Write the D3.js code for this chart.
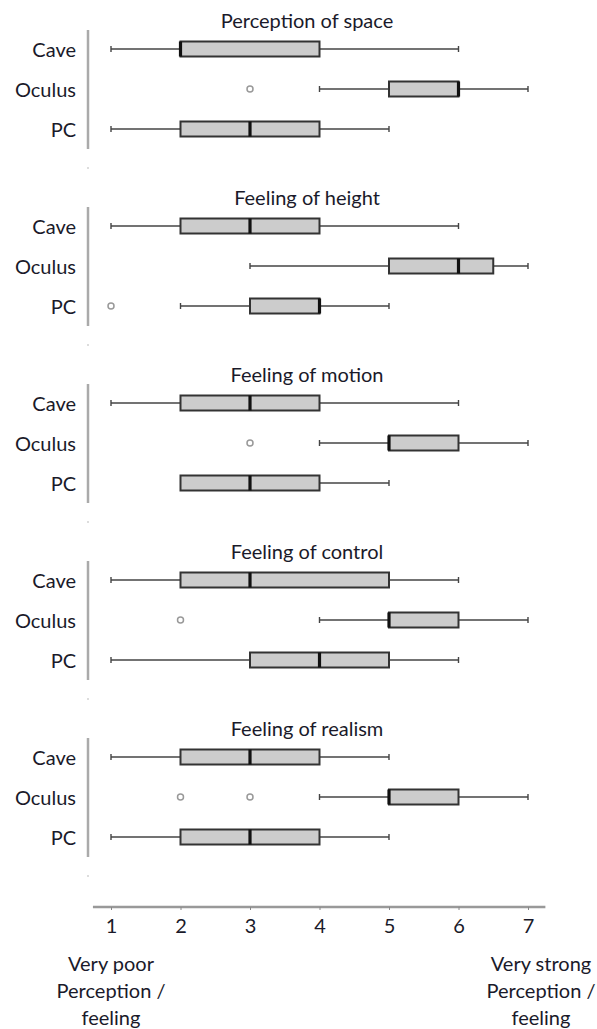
<!DOCTYPE html>
<html><head><meta charset="utf-8">
<script src="https://cdn.jsdelivr.net/npm/d3@7"></script>
<style>
html,body{margin:0;padding:0;background:#fff;}
svg{display:block;}
text{font-family:Lato,"Open Sans",sans-serif;fill:#1a1a2a;}
</style></head>
<body>
<script>
const panels = ["Perception of space", "Feeling of height", "Feeling of motion", "Feeling of control", "Feeling of realism"];
const groups = ["Cave", "Oculus", "PC"];
// per panel: [Cave, Oculus, PC]
const mins    = [[1, 4, 1], [1, 3, 2], [1, 4, 2], [1, 4, 1], [1, 4, 1]];
const q1s     = [[2, 5, 2], [2, 5, 3], [2, 5, 2], [2, 5, 3], [2, 5, 2]];
const medians = [[2, 6, 3], [3, 6, 4], [3, 5, 3], [3, 5, 4], [3, 5, 3]];
const q3s     = [[4, 6, 4], [4, 6.5, 4], [4, 6, 4], [5, 6, 5], [4, 6, 4]];
const maxs    = [[6, 7, 5], [6, 7, 5], [6, 7, 5], [6, 7, 6], [5, 7, 5]];
const outliers = [[[], [3], []], [[], [], [1]], [[], [3], []], [[], [2], []], [[], [2, 3], []]];
const tickValues = [1, 2, 3, 4, 5, 6, 7];
const leftLabel = ["Very poor", "Perception /", "feeling"];
const rightLabel = ["Very strong", "Perception /", "feeling"];

const W = 597, H = 1029;
const FS = "20px";
const svg = d3.select("body").append("svg").attr("width", W).attr("height", H);

const x = d3.scaleLinear().domain([1, 7]).range([111, 528]);
const panelY = d3.scaleLinear().domain([0, 1]).range([49, 226]);
const rowY = d3.scalePoint().domain(groups).range([0, 80]);
const boxH = 15;

panels.forEach((title, pi) => {
  const g = svg.append("g").attr("transform", `translate(0,${panelY(pi)})`);
  g.append("text").attr("x", 307).attr("y", -29).attr("text-anchor", "middle")
    .attr("dominant-baseline", "central").style("font-size", FS).text(title);
  // left category axis line
  g.append("line").attr("x1", 88).attr("x2", 88).attr("y1", rowY("Cave") - 19).attr("y2", rowY("PC") + 20)
    .attr("stroke", "#aaa").attr("stroke-width", 2.5);
  g.append("rect").attr("x", 87).attr("y", rowY("PC") + 38).attr("width", 2).attr("height", 2).attr("fill", "#ddd");
  groups.forEach((grp, gi) => {
    const cy = rowY(grp);
    g.append("text").attr("x", 76).attr("y", cy).attr("text-anchor", "end")
      .attr("dominant-baseline", "central").style("font-size", FS).text(grp);
    const mn = mins[pi][gi], a = q1s[pi][gi], md = medians[pi][gi], b = q3s[pi][gi], mx = maxs[pi][gi];
    // whiskers
    if (mn < a) {
      g.append("line").attr("x1", x(mn)).attr("x2", x(a)).attr("y1", cy).attr("y2", cy).attr("stroke", "#444").attr("stroke-width", 1.6);
      g.append("line").attr("x1", x(mn)).attr("x2", x(mn)).attr("y1", cy - 3).attr("y2", cy + 3).attr("stroke", "#444").attr("stroke-width", 1.4);
    }
    if (mx > b) {
      g.append("line").attr("x1", x(b)).attr("x2", x(mx)).attr("y1", cy).attr("y2", cy).attr("stroke", "#444").attr("stroke-width", 1.6);
      g.append("line").attr("x1", x(mx)).attr("x2", x(mx)).attr("y1", cy - 3).attr("y2", cy + 3).attr("stroke", "#444").attr("stroke-width", 1.4);
    }
    g.append("rect").attr("x", x(a)).attr("y", cy - boxH / 2).attr("width", x(b) - x(a)).attr("height", boxH)
      .attr("fill", "#cccccc").attr("stroke", "#333").attr("stroke-width", 2);
    g.append("line").attr("x1", x(md)).attr("x2", x(md)).attr("y1", cy - boxH / 2).attr("y2", cy + boxH / 2)
      .attr("stroke", "#111").attr("stroke-width", 3.2);
    outliers[pi][gi].forEach(o => {
      g.append("circle").attr("cx", x(o)).attr("cy", cy).attr("r", 3)
        .attr("fill", "#fff").attr("stroke", "#999").attr("stroke-width", 1.5);
    });
  });
});

// bottom axis
const axisY = 907;
const axisG = svg.append("g").attr("transform", `translate(0,${axisY})`)
  .call(d3.axisBottom(x).tickValues(tickValues).tickSize(3).tickPadding(9).tickFormat(d3.format("d")));
axisG.select(".domain").remove();
axisG.insert("line", ":first-child").attr("x1", x(0.74)).attr("x2", x(7.25)).attr("y1", 0).attr("y2", 0)
  .attr("stroke", "#999").attr("stroke-width", 2.5);
axisG.selectAll(".tick line").attr("stroke", "#888").attr("stroke-width", 1);
axisG.selectAll(".tick text").style("font-size", FS).style("font-family", "Lato, sans-serif").attr("fill", "#1a1a2a");

leftLabel.forEach((t, i) => {
  svg.append("text").attr("x", x(1)).attr("y", 963 + i * 27).attr("text-anchor", "middle")
    .attr("dominant-baseline", "central").style("font-size", FS).text(t);
});
rightLabel.forEach((t, i) => {
  svg.append("text").attr("x", 541).attr("y", 963 + i * 27).attr("text-anchor", "middle")
    .attr("dominant-baseline", "central").style("font-size", FS).text(t);
});
</script>
</body></html>
